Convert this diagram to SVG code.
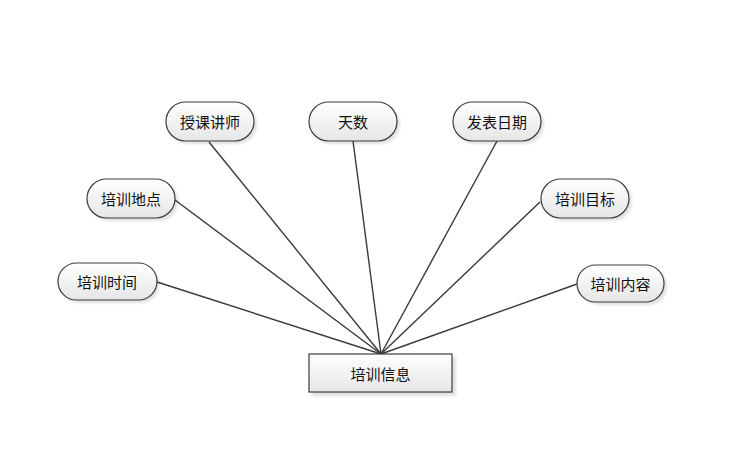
<svg xmlns="http://www.w3.org/2000/svg" width="744" height="451" viewBox="0 0 744 451">
<style>
.n{fill:url(#g);stroke:#3c3c3c;stroke-width:1.2}
.s{fill:#000;opacity:0.12}
.t{font-family:"Noto Sans CJK SC","Microsoft YaHei",sans-serif;font-size:15px;fill:#111;text-anchor:middle;dominant-baseline:central}
.c line{stroke:#3a3a3a;stroke-width:1.4}
</style>
<defs>
<linearGradient id="g" x1="0" y1="0" x2="0" y2="1">
<stop offset="0" stop-color="#ffffff"/>
<stop offset="1" stop-color="#e6e6e6"/>
</linearGradient>
<filter id="b" x="-20%" y="-30%" width="140%" height="160%"><feGaussianBlur stdDeviation="1.5"/></filter>
</defs>
<rect width="744" height="451" fill="#fff"/>
<g class="c">
<line x1="209" y1="142" x2="381" y2="354"/>
<line x1="353" y1="141" x2="381" y2="354"/>
<line x1="497" y1="141" x2="381" y2="354"/>
<line x1="175" y1="200" x2="381" y2="354"/>
<line x1="540" y1="202" x2="381" y2="354"/>
<line x1="157" y1="282" x2="381" y2="354"/>
<line x1="577" y1="284" x2="381" y2="354"/>
</g>
<g id="n1"><rect class="s" filter="url(#b)" x="169" y="105" width="88" height="39" rx="19.5"/><rect class="n" x="166" y="102" width="88" height="39" rx="19.5"/><text class="t" x="210" y="121.5">授课讲师</text></g>
<g id="n2"><rect class="s" filter="url(#b)" x="312" y="105" width="88" height="39" rx="19.5"/><rect class="n" x="309" y="102" width="88" height="39" rx="19.5"/><text class="t" x="353" y="121.5">天数</text></g>
<g id="n3"><rect class="s" filter="url(#b)" x="456" y="105" width="88" height="39" rx="19.5"/><rect class="n" x="453" y="102" width="88" height="39" rx="19.5"/><text class="t" x="497" y="121.5">发表日期</text></g>
<g id="n4"><rect class="s" filter="url(#b)" x="90" y="182" width="88" height="39" rx="19.5"/><rect class="n" x="87" y="179" width="88" height="39" rx="19.5"/><text class="t" x="131" y="198.5">培训地点</text></g>
<g id="n5"><rect class="s" filter="url(#b)" x="544" y="182" width="88" height="39" rx="19.5"/><rect class="n" x="541" y="179" width="88" height="39" rx="19.5"/><text class="t" x="585" y="198.5">培训目标</text></g>
<g id="n6"><rect class="s" filter="url(#b)" x="61" y="266" width="98" height="37" rx="18.5"/><rect class="n" x="58" y="263" width="99" height="37" rx="18.5"/><text class="t" x="107" y="281.5">培训时间</text></g>
<g id="n7"><rect class="s" filter="url(#b)" x="580" y="268" width="87" height="37" rx="18.5"/><rect class="n" x="577" y="265" width="87" height="37" rx="18.5"/><text class="t" x="620.5" y="283.5">培训内容</text></g>
<g id="n8"><rect class="s" filter="url(#b)" x="312" y="357" width="144" height="39"/><rect class="n" x="309" y="354" width="143" height="38"/><text class="t" x="380.5" y="373">培训信息</text></g>
</svg>
